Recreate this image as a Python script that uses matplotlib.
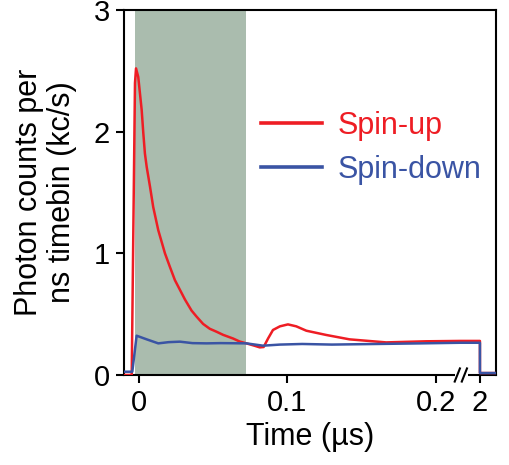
import numpy as np
import matplotlib
matplotlib.use("Agg")
import matplotlib.pyplot as plt

plt.rcParams['font.family'] = ['Liberation Sans', 'DejaVu Sans']

# ---- data (time in microseconds, counts in kc/s) ----
red_t = [-0.0101, -0.0049, -0.0027, -0.0020, -0.0005, 0.0018, 0.0029, 0.0040,
         0.0052, 0.0074, 0.0096, 0.0130, 0.0175, 0.0208, 0.0242, 0.0276,
         0.0310, 0.0354, 0.0388, 0.0432, 0.0477, 0.0522, 0.0567, 0.0634,
         0.0679, 0.0724, 0.0780, 0.0814, 0.0840, 0.0870, 0.0903, 0.0950,
         0.1004, 0.1060, 0.1128, 0.1262, 0.1419, 0.1666, 0.1935, 0.2165,
         0.5, 1.0, 1.5, 1.999, 2.0, 3.45]
red_v = [0.0, 0.0, 2.40, 2.52, 2.45, 2.18, 1.99, 1.82,
         1.71, 1.55, 1.38, 1.19, 1.00, 0.89, 0.78, 0.70,
         0.62, 0.53, 0.48, 0.42, 0.38, 0.356, 0.33, 0.30,
         0.275, 0.26, 0.24, 0.227, 0.23, 0.30, 0.37, 0.40,
         0.416, 0.40, 0.364, 0.329, 0.293, 0.268, 0.277, 0.28,
         0.28, 0.28, 0.28, 0.28, 0.016, 0.016]

blue_t = [-0.0101, -0.0045, -0.0016, 0.0052, 0.0130, 0.0200, 0.0276, 0.0360,
          0.0455, 0.0550, 0.0724, 0.0836, 0.0950, 0.1100, 0.1300, 0.1600,
          0.1900, 0.2165, 1.0, 1.999, 2.0, 3.45]
blue_v = [0.027, 0.027, 0.323, 0.293, 0.26, 0.27, 0.274, 0.262,
          0.26, 0.262, 0.26, 0.241, 0.25, 0.255, 0.25, 0.255,
          0.26, 0.265, 0.265, 0.265, 0.016, 0.016]

shade_range = (-0.0027, 0.0724)
xticks = [0, 0.1, 0.2, 2]
xticklabels = ['0', '0.1', '0.2', '2']
yticks = [0, 1, 2, 3]

# broken-axis scale: linear up to the break, compressed after it
BRK = 0.2165
K = 0.00746

def fwd(x):
    x = np.asarray(x, dtype=float)
    return np.where(x <= BRK, x, BRK + (x - BRK) * K)

def inv(y):
    y = np.asarray(y, dtype=float)
    return np.where(y <= BRK, y, BRK + (y - BRK) / K)

RED = '#ee1d24'
BLUE = '#3a54a4'

fig = plt.figure(figsize=(5.09, 4.65), dpi=100)
ax = fig.add_axes([124/509, 90/465, 372/509, 365/465])
ax.set_xscale('function', functions=(fwd, inv))

ax.axvspan(*shade_range, color='#aabcae', lw=0, zorder=1)
ax.plot(red_t, red_v, color=RED, lw=1.8, label='Spin-up', zorder=3)
ax.plot(blue_t, blue_v, color=BLUE, lw=1.8, label='Spin-down', zorder=4)

ax.set_xlim(-0.0101, 3.45)
ax.set_ylim(0, 3)
ax.set_xticks(xticks)
ax.set_xticklabels(xticklabels)
ax.set_yticks(yticks)
ax.minorticks_off()
ax.tick_params(direction='out', length=6, width=1.5, labelsize=21, pad=4)
for s in ax.spines.values():
    s.set_linewidth(1.5)

ax.set_xlabel('Time (µs)', fontsize=22, labelpad=4)
ax.set_ylabel('Photon counts per\nns timebin (kc/s)', fontsize=22, labelpad=12,
              linespacing=1.15)

leg = ax.legend(loc='center left', bbox_to_anchor=(0.369, 0.622), frameon=False,
                fontsize=22, handlelength=2.0, handletextpad=0.5,
                labelspacing=0.45, borderpad=0, borderaxespad=0)
for line, txt in zip(leg.get_lines(), leg.get_texts()):
    line.set_linewidth(2.6)
    txt.set_color(line.get_color())

# break marks on the bottom axis
ax.plot([0.890, 0.926], [0, 0], transform=ax.transAxes, color='white', lw=3,
        clip_on=False, zorder=10, solid_capstyle='butt')
for xc in (0.896, 0.915):
    ax.plot([xc - 0.007, xc + 0.007], [-0.018, 0.018], transform=ax.transAxes,
            color='black', lw=1.5, clip_on=False, zorder=11)

fig.savefig('out.png', dpi=100)
